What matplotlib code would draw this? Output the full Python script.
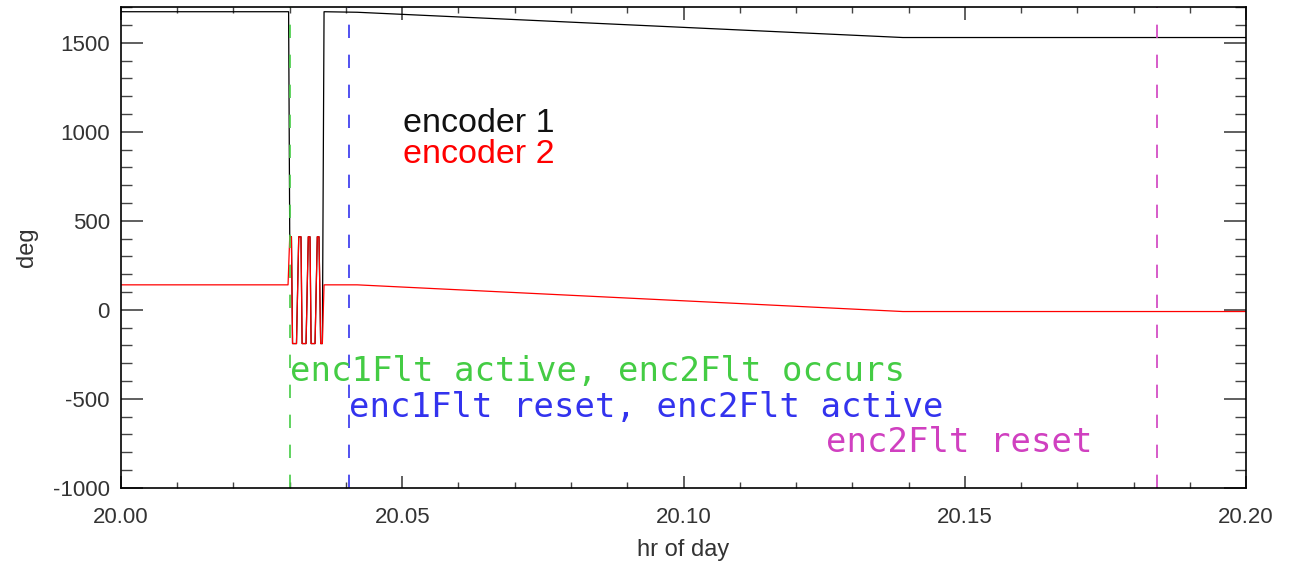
import matplotlib
matplotlib.use('Agg')
import matplotlib.pyplot as plt
from matplotlib.ticker import MultipleLocator, FormatStrFormatter

plt.rcParams['font.family'] = ['Liberation Sans', 'DejaVu Sans']
plt.rcParams['axes.unicode_minus'] = False

# encoder 1 (black)
enc1_t = [20.0, 20.0298, 20.0300, 20.0303, 20.0305, 20.0312, 20.0316, 20.0320,
          20.0322, 20.0329, 20.0333, 20.0336, 20.0338, 20.0345, 20.0349, 20.0352,
          20.0355, 20.0358, 20.0361, 20.042, 20.139, 20.20]
enc1_v = [1675, 1675, 410, 410, -190, -190, 410, 410,
          -190, -190, 410, 410, -190, -190, 410, 410,
          -190, -190, 1675, 1672, 1530, 1530]

# encoder 2 (red), oscillates while the faults are active
enc2_t = [20.0, 20.0297, 20.0300, 20.0303, 20.0305, 20.0312, 20.0316, 20.0320,
          20.0322, 20.0329, 20.0333, 20.0336, 20.0338, 20.0345, 20.0349, 20.0352,
          20.0355, 20.0358, 20.0361, 20.042, 20.139, 20.20]
enc2_v = [140, 140, 410, 410, -190, -190, 410, 410,
          -190, -190, 410, 410, -190, -190, 410, 410,
          -190, -190, 140, 140, -10, -10]

# event markers
event_t = [20.0300, 20.0405, 20.1842]
event_colors = ['#44cc44', '#3333ee', '#d040c0']
event_labels = ['enc1Flt active, enc2Flt occurs',
                'enc1Flt reset, enc2Flt active',
                'enc2Flt reset']
label_t = [20.0300, 20.0405, 20.1253]
label_v = [-400, -600, -800]

fig = plt.figure(figsize=(12.91, 5.73), dpi=100)
ax = fig.add_axes([0.0937, 0.1489, 0.8715, 0.8384])

ax.plot(enc1_t, enc1_v, color='black', lw=0.9)
ax.plot(enc2_t, enc2_v, color='red', lw=0.9)

for t, c in zip(event_t, event_colors):
    ax.axvline(t, color=c, lw=1.2, dashes=(8, 10))

for t, v, s, c in zip(label_t, label_v, event_labels, event_colors):
    ax.text(t, v, s, color=c, fontsize=24.5, family='DejaVu Sans Mono',
            ha='left', va='baseline')

ax.text(20.0501, 1000, 'encoder 1', color='#111111', fontsize=24.5, va='baseline')
ax.text(20.0501, 825, 'encoder 2', color='red', fontsize=24.5, va='baseline')

ax.set_xlim(20.0, 20.2)
ax.set_ylim(-1000, 1700)
ax.xaxis.set_major_locator(MultipleLocator(0.05))
ax.xaxis.set_minor_locator(MultipleLocator(0.01))
ax.xaxis.set_major_formatter(FormatStrFormatter('%.2f'))
ax.yaxis.set_major_locator(MultipleLocator(500))
ax.yaxis.set_minor_locator(MultipleLocator(100))

ax.tick_params(axis='both', which='both', direction='in', top=True, right=True,
               color='#444444', labelcolor='#333333', labelsize=16)
ax.tick_params(axis='x', which='major', length=9, width=1.2, pad=14)
ax.tick_params(axis='x', which='minor', length=4.5, width=1)
ax.tick_params(axis='y', which='major', length=16, width=1.2, pad=8)
ax.tick_params(axis='y', which='minor', length=8, width=1)
for sp in ax.spines.values():
    sp.set_linewidth(1.2)

ax.set_xlabel('hr of day', fontsize=17, color='#333333', labelpad=8)
ax.set_ylabel('deg', fontsize=17, color='#333333', labelpad=11)

fig.savefig('out.png', dpi=100)
